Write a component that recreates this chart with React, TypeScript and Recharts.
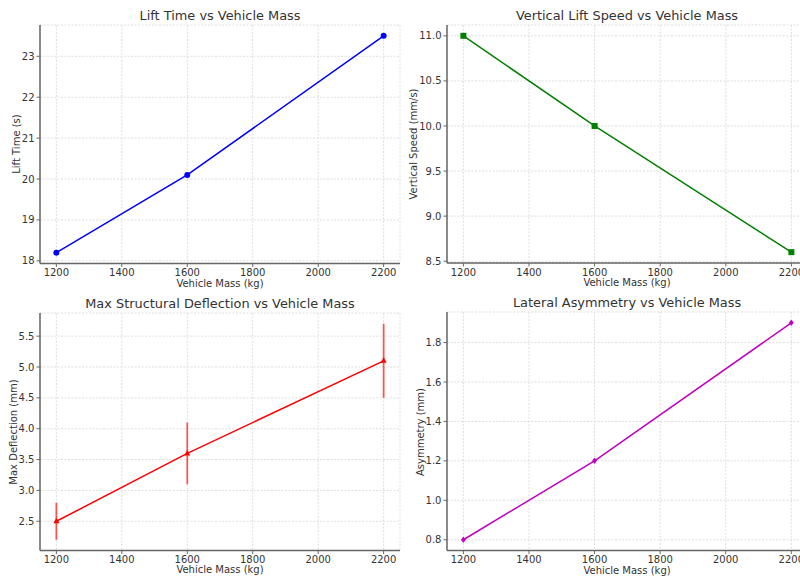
import { LineChart, Line, XAxis, YAxis, CartesianGrid, ErrorBar } from 'recharts';

const masses = [1200, 1600, 2200];
const liftTime = [18.2, 20.1, 23.5];
const liftSpeed = [11.0, 10.0, 8.6];
const deflection = [2.5, 3.6, 5.1];
const deflectionErr = [0.3, 0.5, 0.6];
const asymmetry = [0.8, 1.2, 1.9];
const asymmetryErr = [0.012, 0.012, 0.012];

const massTicks = [1200, 1400, 1600, 1800, 2000, 2200];
const liftTimeTicks = [18, 19, 20, 21, 22, 23];
const liftSpeedTicks = [8.5, 9.0, 9.5, 10.0, 10.5, 11.0];
const deflectionTicks = [2.5, 3.0, 3.5, 4.0, 4.5, 5.0, 5.5];
const asymmetryTicks = [0.8, 1.0, 1.2, 1.4, 1.6, 1.8];

const FONT = '"DejaVu Sans", sans-serif';
const TEXT = '#333';
const SPINE = '#666';

const circleDot = (color: string) => (p: any) => (
  <circle key={p.index} cx={p.cx} cy={p.cy} r={3} fill={color} />
);
const squareDot = (color: string) => (p: any) => (
  <rect key={p.index} x={p.cx - 3} y={p.cy - 3} width={6} height={6} fill={color} />
);
const triDot = (color: string) => (p: any) => (
  <polygon key={p.index} points={`${p.cx},${p.cy - 3.5} ${p.cx - 3},${p.cy + 2} ${p.cx + 3},${p.cy + 2}`} fill={color} />
);
const diamondDot = (color: string) => (p: any) => (
  <polygon key={p.index} points={`${p.cx},${p.cy - 3} ${p.cx + 2.5},${p.cy} ${p.cx},${p.cy + 3} ${p.cx - 2.5},${p.cy}`} fill={color} />
);

type PanelProps = {
  x0: number; x1: number; y0: number; y1: number;
  title: string; yLabel: string; yLabelX: number;
  values: number[]; errors?: number[];
  yDomain: [number, number]; yTicks: number[]; decimals: number;
  color: string; dot: (p: any) => any;
};

function Panel(props: PanelProps) {
  const { x0, x1, y0, y1, title, yLabel, yLabelX, values, errors, yDomain, yTicks, decimals, color, dot } = props;
  const data = masses.map((m, i) => ({ mass: m, v: values[i], err: errors ? errors[i] : 0 }));
  const w = x1 - x0 + 50;
  const h = y1 - y0 + 40;
  const cx = (x0 + x1) / 2;
  const tickStyle = { fontSize: 10, fill: TEXT, fontFamily: FONT };
  return (
    <>
      <div style={{ position: 'absolute', left: x0 - 40, top: y0 - 10 }}>
        <LineChart width={w} height={h} data={data} margin={{ top: 10, right: 10, left: 0, bottom: 0 }}>
          <CartesianGrid stroke="#dedede" strokeDasharray="2 1.5" />
          <XAxis
            type="number" dataKey="mass" domain={[1150, 2250]} ticks={massTicks} allowDataOverflow
            height={30} tick={tickStyle} tickSize={3.5} tickMargin={2}
            axisLine={{ stroke: SPINE, strokeWidth: 1.5 }} tickLine={{ stroke: SPINE }}
          />
          <YAxis
            type="number" domain={yDomain} ticks={yTicks} allowDataOverflow width={40}
            tick={tickStyle} tickSize={3.5} tickMargin={2}
            tickFormatter={(t: number) => t.toFixed(decimals)}
            axisLine={{ stroke: SPINE, strokeWidth: 1.5 }} tickLine={{ stroke: SPINE }}
          />
          <Line type="linear" dataKey="v" stroke={color} strokeWidth={1.5} dot={dot} activeDot={false} isAnimationActive={false}>
            {errors && <ErrorBar dataKey="err" direction="y" width={0} stroke={color} strokeWidth={1.8} strokeOpacity={0.65} />}
          </Line>
        </LineChart>
      </div>
      <div style={{ position: 'absolute', left: cx, top: y0 - 10, transform: 'translate(-50%,-50%)', fontFamily: FONT, fontSize: 12.9, color: TEXT, whiteSpace: 'nowrap' }}>
        {title}
      </div>
      <div style={{ position: 'absolute', left: cx, top: y1 + 19, transform: 'translate(-50%,-50%)', fontFamily: FONT, fontSize: 10, color: TEXT, whiteSpace: 'nowrap' }}>
        Vehicle Mass (kg)
      </div>
      <div style={{ position: 'absolute', left: yLabelX, top: (y0 + y1) / 2, transform: 'translate(-50%,-50%) rotate(-90deg)', fontFamily: FONT, fontSize: 10, color: TEXT, whiteSpace: 'nowrap' }}>
        {yLabel}
      </div>
    </>
  );
}

export default function App() {
  return (
    <div style={{ position: 'absolute', left: 0, top: 0, width: 800, height: 579, overflow: 'hidden', background: '#fff' }}>
      <Panel x0={40} x1={400} y0={25} y1={263.5} title="Lift Time vs Vehicle Mass" yLabel="Lift Time (s)" yLabelX={16}
        values={liftTime} yDomain={[17.935, 23.765]} yTicks={liftTimeTicks} decimals={0} color="#0000ff" dot={circleDot('#0000ff')} />
      <Panel x0={446.6} x1={807.4} y0={25} y1={263} title="Vertical Lift Speed vs Vehicle Mass" yLabel="Vertical Speed (mm/s)" yLabelX={413}
        values={liftSpeed} yDomain={[8.48, 11.12]} yTicks={liftSpeedTicks} decimals={1} color="#008000" dot={squareDot('#008000')} />
      <Panel x0={40} x1={400} y0={312.7} y1={550.3} title="Max Structural Deflection vs Vehicle Mass" yLabel="Max Deflection (mm)" yLabelX={13}
        values={deflection} errors={deflectionErr} yDomain={[2.025, 5.875]} yTicks={deflectionTicks} decimals={1} color="#ff0000" dot={triDot('#ff0000')} />
      <Panel x0={446.7} x1={807.4} y0={312.2} y1={550.8} title="Lateral Asymmetry vs Vehicle Mass" yLabel="Asymmetry (mm)" yLabelX={420}
        values={asymmetry} errors={asymmetryErr} yDomain={[0.745, 1.955]} yTicks={asymmetryTicks} decimals={1} color="#bf00bf" dot={diamondDot('#bf00bf')} />
    </div>
  );
}
